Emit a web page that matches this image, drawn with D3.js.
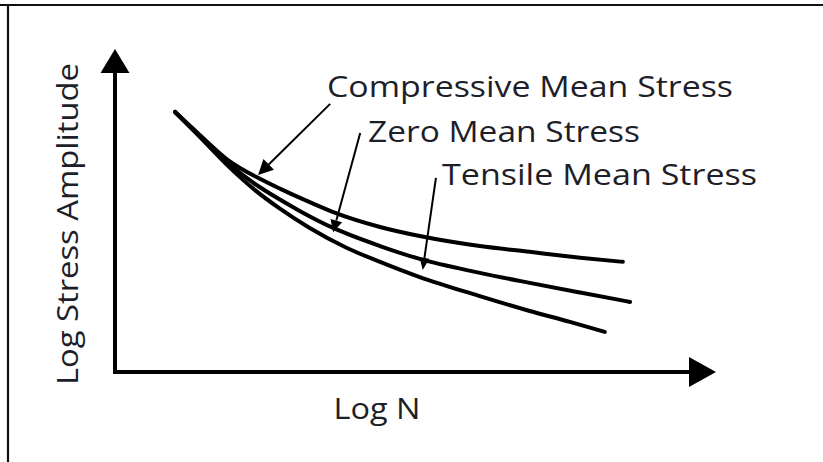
<!DOCTYPE html>
<html>
<head>
<meta charset="utf-8">
<script src="https://cdn.jsdelivr.net/npm/d3@7"></script>
<style>
  html, body { margin: 0; padding: 0; background: #fff; }
  svg { display: block; }
  text { font-family: "Open Sans", Lato, sans-serif; fill: #1e1e28; }
</style>
</head>
<body>
<svg id="chart" width="823" height="462"></svg>
<script>
// S-N curves (log N vs log stress amplitude), qualitative units 0-100
const compressiveLogN   = [10.0, 14.1, 18.8, 24.1, 27.5, 30.8, 36.3, 44.1, 50.7, 60.7, 69.0, 77.4, 84.5];
const compressiveStress = [80.5, 73.4, 65.6, 59.8, 56.7, 53.9, 49.5, 44.9, 42.1, 39.0, 37.2, 35.4, 34.1];

const zeroLogN   = [10.0, 14.1, 18.8, 23.3, 27.5, 30.8, 36.3, 44.1, 50.7, 60.7, 69.0, 77.4, 85.7];
const zeroStress = [80.5, 73.1, 64.7, 58.2, 53.3, 49.8, 44.6, 39.0, 35.0, 30.7, 27.6, 24.6, 21.7];

const tensileLogN   = [10.0, 14.1, 18.8, 23.3, 27.5, 32.4, 38.6, 44.1, 50.7, 60.7, 69.0, 75.7, 81.5];
const tensileStress = [80.5, 72.8, 63.8, 56.3, 50.5, 44.6, 38.4, 34.1, 29.4, 23.5, 18.9, 15.5, 12.4];

const seriesNames = ["Compressive Mean Stress", "Zero Mean Stress", "Tensile Mean Stress"];
// leader line for each label: [startLogN, startStress, tipLogN, tipStress]
const leaders = [
  [35.8, 83.0, 23.8, 61.0],
  [40.8, 74.0, 36.3, 43.3],
  [53.4, 60.1, 51.2, 31.6]
];
const xTitle = "Log N";
const yTitle = "Log Stress Amplitude";

const svg = d3.select("#chart");
const W = 823, H = 462;

const x = d3.scaleLinear().domain([0, 100]).range([115, 716]);
const y = d3.scaleLinear().domain([0, 100]).range([372, 49]);

// outer frame (top and left rules)
svg.append("line").attr("x1", 0).attr("x2", W).attr("y1", 5).attr("y2", 5)
  .attr("stroke", "#111").attr("stroke-width", 2.2);
svg.append("line").attr("x1", 8).attr("x2", 8).attr("y1", 5).attr("y2", H)
  .attr("stroke", "#111").attr("stroke-width", 2.2);

// arrowhead helper: filled triangle pointing from (fx,fy) to (tx,ty)
function arrowHead(g, fx, fy, tx, ty, len, half) {
  const a = Math.atan2(ty - fy, tx - fx);
  const bx = tx - len * Math.cos(a), by = ty - len * Math.sin(a);
  const nx = -Math.sin(a) * half, ny = Math.cos(a) * half;
  g.append("path")
    .attr("d", `M${tx},${ty}L${bx + nx},${by + ny}L${bx - nx},${by - ny}Z`)
    .attr("fill", "#000");
  return [bx, by];
}

// axes with arrow ends
const axes = svg.append("g");
axes.append("path")
  .attr("d", `M${x(0)},${y(100) + 20}L${x(0)},${y(0)}L${x(100) - 20},${y(0)}`)
  .attr("fill", "none").attr("stroke", "#000").attr("stroke-width", 4)
  .attr("stroke-linejoin", "miter");
arrowHead(axes, x(0), y(0), x(0), y(100), 24, 14.5);
arrowHead(axes, x(0), y(0), x(100), y(0), 27, 15);

// curves
const seriesData = [
  d3.zip(compressiveLogN, compressiveStress),
  d3.zip(zeroLogN, zeroStress),
  d3.zip(tensileLogN, tensileStress)
];
const line = d3.line()
  .x(d => x(d[0])).y(d => y(d[1]))
  .curve(d3.curveMonotoneX);

svg.append("g").selectAll("path")
  .data(seriesData)
  .join("path")
  .attr("d", line)
  .attr("fill", "none")
  .attr("stroke", "#000")
  .attr("stroke-width", 4)
  .attr("stroke-linecap", "round");

// leaders with arrowheads
const lg = svg.append("g");
const headSizes = [[15, 7.5], [12, 6], [12, 5]];
leaders.forEach((d, i) => {
  const [sx, sy, tx, ty] = [x(d[0]), y(d[1]), x(d[2]), y(d[3])];
  const [bx, by] = arrowHead(lg, sx, sy, tx, ty, headSizes[i][0], headSizes[i][1]);
  lg.append("line")
    .attr("x1", sx).attr("y1", sy).attr("x2", bx).attr("y2", by)
    .attr("stroke", "#000").attr("stroke-width", 2);
});

// series labels
const labelPos = [
  { x: 327, y: 97, w: 406 },
  { x: 368, y: 142, w: 272 },
  { x: 442, y: 185, w: 315 }
];
svg.append("g").selectAll("text")
  .data(seriesNames)
  .join("text")
  .attr("x", (d, i) => labelPos[i].x)
  .attr("y", (d, i) => labelPos[i].y)
  .attr("font-size", 30)
  .attr("textLength", (d, i) => labelPos[i].w)
  .attr("lengthAdjust", "spacingAndGlyphs")
  .text(d => d);

// axis titles
svg.append("text")
  .attr("x", 377).attr("y", 419)
  .attr("text-anchor", "middle")
  .attr("font-size", 30)
  .attr("textLength", 87)
  .attr("lengthAdjust", "spacingAndGlyphs")
  .text(xTitle);

svg.append("text")
  .attr("transform", "translate(78,224) rotate(-90)")
  .attr("text-anchor", "middle")
  .attr("font-size", 30)
  .attr("textLength", 322)
  .attr("lengthAdjust", "spacingAndGlyphs")
  .text(yTitle);
</script>
</body>
</html>
